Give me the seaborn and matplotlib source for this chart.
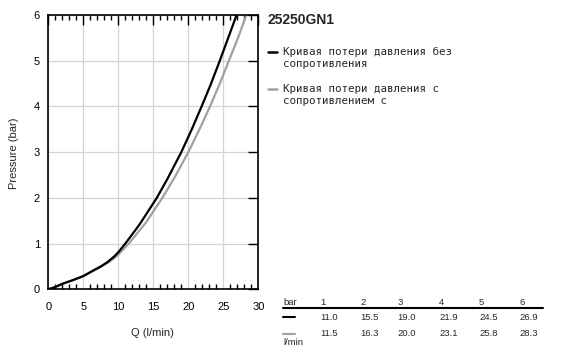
import numpy as np
import pandas as pd
import seaborn as sns
import matplotlib.pyplot as plt
from matplotlib.ticker import MultipleLocator

# table values (bar -> l/min)
bar = [1, 2, 3, 4, 5, 6]
q_free = [11.0, 15.5, 19.0, 21.9, 24.5, 26.9]
q_res = [11.5, 16.3, 20.0, 23.1, 25.8, 28.3]

# curve points
curve_free_q = [0, 1, 2, 3.5, 5, 6.4, 7.5, 8.5, 9.5, 10, 11.0, 13, 15.5, 17, 19.0, 20.5, 21.9, 23.2, 24.5, 25.7, 26.9]
curve_free_p = [0, 0.05, 0.12, 0.2, 0.29, 0.41, 0.5, 0.6, 0.73, 0.81, 1.0, 1.41, 2.0, 2.41, 3.0, 3.5, 4.0, 4.48, 5.0, 5.5, 6.0]
curve_res_q = [0, 1, 2, 3.5, 5, 6.4, 7.5, 8.5, 9.5, 10, 11.5, 13.9, 16.3, 18.2, 20.0, 21.6, 23.1, 24.5, 25.8, 27.1, 28.3]
curve_res_p = [0, 0.05, 0.12, 0.2, 0.28, 0.4, 0.49, 0.58, 0.69, 0.76, 1.0, 1.45, 2.0, 2.49, 3.0, 3.5, 4.0, 4.5, 5.0, 5.5, 6.0]

title = "25250GN1"
label_free = ["Кривая потери давления без", "сопротивления"]
label_res = ["Кривая потери давления с", "сопротивлением с"]

BLACK = "#000000"
GREY = "#a0a0a0"

sns.set_theme(style="white")
plt.rcParams["font.family"] = ["Liberation Sans", "DejaVu Sans"]

W, H = 576, 357
fig = plt.figure(figsize=(W / 100, H / 100), dpi=100)


def fx(x):
    return x / W


def fy(y):
    return 1 - y / H


ax = fig.add_axes([fx(48.3), fy(289.3), fx(258.3) - fx(48.3), fy(15) - fy(289.3)])

df_free = pd.DataFrame({"Q": curve_free_q, "P": curve_free_p})
df_res = pd.DataFrame({"Q": curve_res_q, "P": curve_res_p})
sns.lineplot(data=df_res, x="Q", y="P", color=GREY, lw=1.6, sort=False, ax=ax)
sns.lineplot(data=df_free, x="Q", y="P", color=BLACK, lw=1.6, sort=False, ax=ax)

ax.set_xlim(0, 30)
ax.set_ylim(0, 6)
ax.xaxis.set_major_locator(MultipleLocator(5))
ax.xaxis.set_minor_locator(MultipleLocator(1))
ax.yaxis.set_major_locator(MultipleLocator(1))
ax.grid(True, which="major", color="#d4d4d4", lw=0.9)
ax.tick_params(which="major", direction="in", length=7, width=1, color="black",
               top=True, right=True, labelsize=8, colors="black")
ax.tick_params(axis="x", which="major", pad=9.5)
ax.tick_params(axis="y", which="major", pad=6)
ax.tick_params(axis="x", which="minor", direction="in", length=3.5, width=1,
               color="black", top=True, bottom=True)
for s in ax.spines.values():
    s.set_color("black")
    s.set_linewidth(1.2)

ax.set_xlabel("")
ax.set_ylabel("")
fig.text(fx(152.7), fy(333), "Q (l/min)", fontsize=8, ha="center", va="center")
fig.text(fx(14), fy(153), "Pressure (bar)", fontsize=8, ha="center", va="center", rotation=90)

# title and legend
fig.text(fx(267.3), fy(20.5), title, fontsize=10, fontweight="bold", ha="left", va="center")
mono = "DejaVu Sans Mono"
fig.add_artist(plt.Line2D([fx(268.3), fx(276.7)], [fy(51.7), fy(51.7)], color=BLACK, lw=1.8))
fig.add_artist(plt.Line2D([fx(268.3), fx(276.7)], [fy(88.5), fy(88.5)], color=GREY, lw=1.8))
for y0, lines in [(52, label_free), (89, label_res)]:
    for i, line in enumerate(lines):
        fig.text(fx(283.3), fy(y0 + 12 * i), line, fontsize=7.8, family=mono,
                 ha="left", va="center")

# table
col_x = [320, 360, 397.7, 439, 479, 519]
fs = 6.8
fig.text(fx(283.3), fy(302.5), "bar", fontsize=fs, ha="left", va="center")
for x, b in zip(col_x, bar):
    fig.text(fx(x), fy(302.5), str(b), fontsize=fs, ha="left", va="center")
fig.add_artist(plt.Line2D([fx(283), fx(542.7)], [fy(307.7), fy(307.7)], color=BLACK, lw=1.5))
fig.add_artist(plt.Line2D([fx(283), fx(295)], [fy(317.3), fy(317.3)], color=BLACK, lw=1.5))
fig.add_artist(plt.Line2D([fx(283), fx(295)], [fy(333.7), fy(333.7)], color=GREY, lw=1.5))
for x, a, b in zip(col_x, q_free, q_res):
    fig.text(fx(x), fy(317.3), f"{a:.1f}", fontsize=fs, ha="left", va="center")
    fig.text(fx(x), fy(333.7), f"{b:.1f}", fontsize=fs, ha="left", va="center")
fig.text(fx(283), fy(342.5), "l/min", fontsize=fs, ha="left", va="center")

fig.savefig("out.png", dpi=100)
